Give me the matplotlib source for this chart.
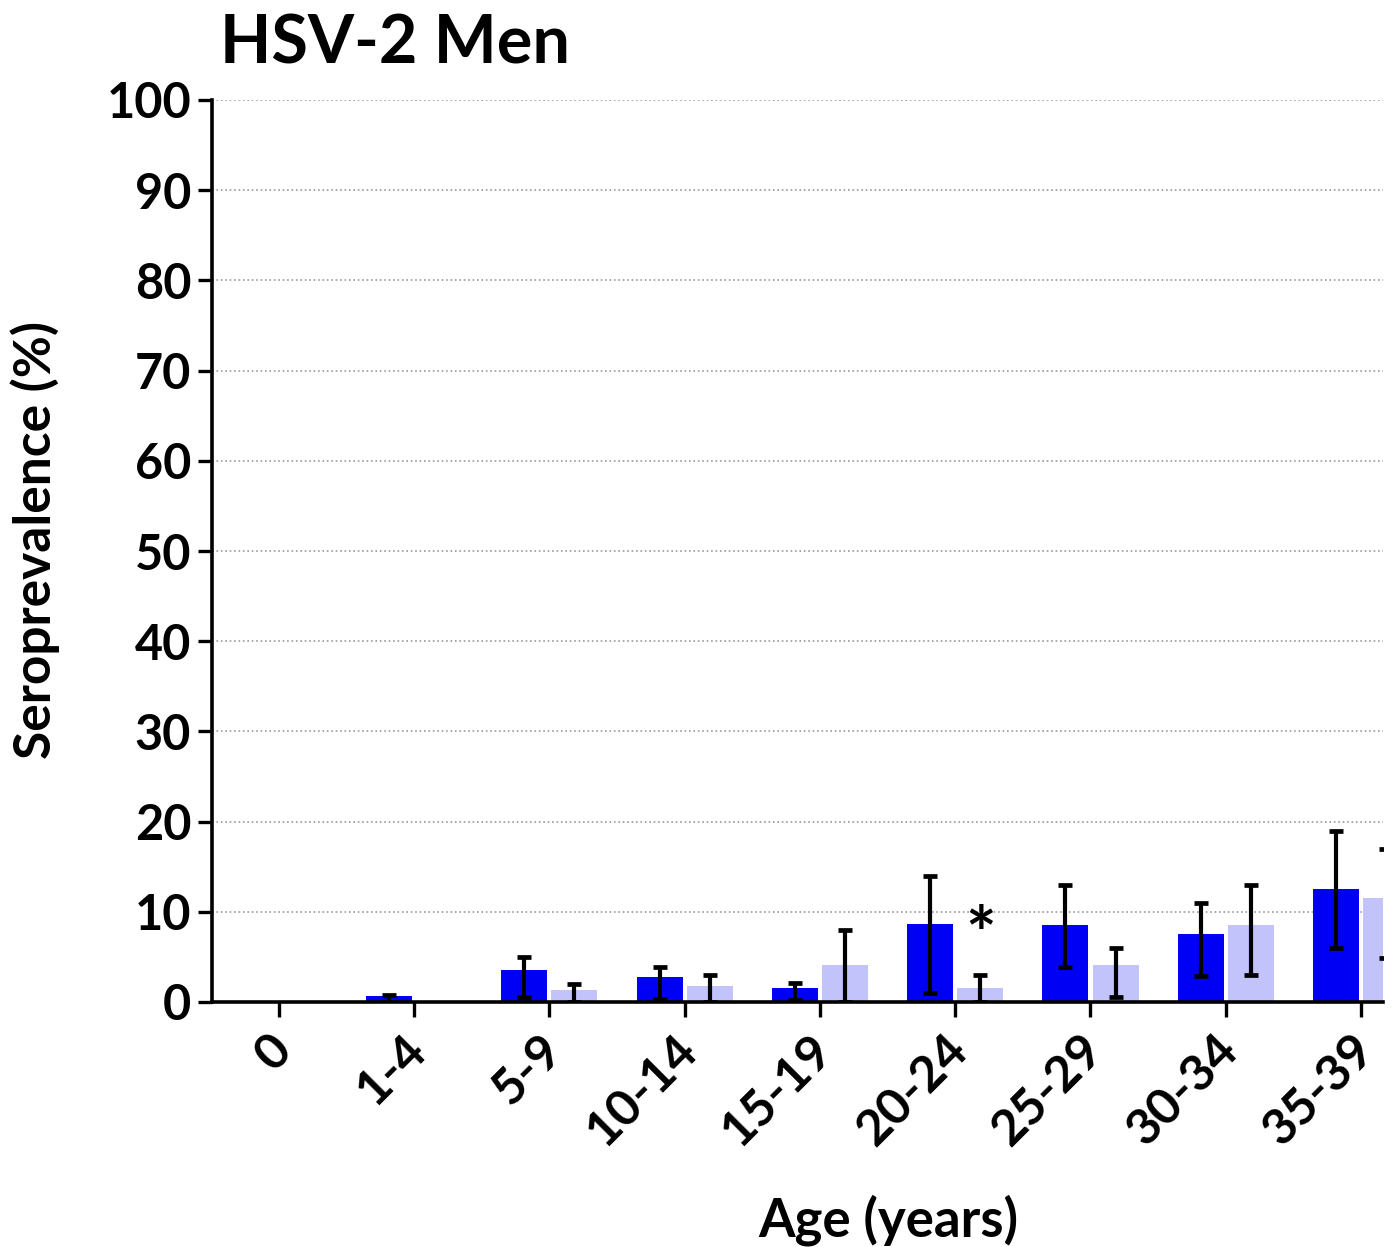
import numpy as np
import matplotlib
matplotlib.use("Agg")
import matplotlib.pyplot as plt
from matplotlib.transforms import ScaledTranslation

plt.rcParams['font.family'] = ['Lato', 'DejaVu Sans']
plt.rcParams['font.weight'] = 'bold'

ages = ['0', '1-4', '5-9', '10-14', '15-19', '20-24', '25-29', '30-34', '35-39']
dark = [0, 0.7, 3.6, 2.8, 1.5, 8.6, 8.5, 7.5, 12.5]
dark_lo = [0, 0, 0.5, 0.3, 0.2, 1.0, 3.9, 2.9, 6.0]
dark_hi = [0, 0.8, 5.0, 3.9, 2.1, 14.0, 13.0, 11.0, 19.0]
light = [0, 0, 1.3, 1.8, 4.1, 1.6, 4.1, 8.5, 11.5]
light_lo = [0, 0, 0, 0, 0, 0, 0.5, 3.0, 4.9]
light_hi = [0, 0, 2.0, 3.0, 8.0, 3.0, 6.0, 13.0, 17.0]
star_group = '20-24'
star_y = 6.9

W, H = 1393, 1247
fig = plt.figure(figsize=(W / 100, H / 100), dpi=100)
left, right, bottom, top = 212, 1383, 1002, 100
ax = fig.add_axes([left / W, 1 - bottom / H, (right - left) / W, (bottom - top) / H])

x = np.arange(len(ages))
width = 0.34
off = 0.185
c_dark = '#0000f5'
c_light = '#c3c3fb'

ax.bar(x - off, dark, width, color=c_dark, zorder=2)
ax.bar(x + off, light, width, color=c_light, zorder=2)

def draw_err(xs, vals, lo, hi):
    for xi, v, l, h in zip(xs, vals, lo, hi):
        if h == 0:
            continue
        ax.errorbar(xi, v, yerr=[[v - l], [h - v]], fmt='none', ecolor='black',
                    elinewidth=3.0, capsize=5.2, capthick=3.4, zorder=3)

draw_err(x - off, dark, dark_lo, dark_hi)
draw_err(x + off, light, light_lo, light_hi)

si = ages.index(star_group)
ax.text(si + off, star_y, '*', ha='center', va='center', fontsize=52, fontweight='bold')

ax.set_ylim(0, 100)
ax.set_xlim(-0.495, (right - 279) / 135.25)
ax.set_yticks(np.arange(0, 101, 10))
ax.set_xticks(x)
ax.set_xticklabels(ages, rotation=45, ha='right', va='center', rotation_mode='anchor')
ax.tick_params(axis='y', length=10, width=2.4, pad=5, labelsize=35)
ax.tick_params(axis='x', length=11, width=2.4, pad=18, labelsize=36)
shift = ScaledTranslation(5 / 100, 0, fig.dpi_scale_trans)
for lab in ax.get_xticklabels():
    lab.set_fontweight('bold')
    lab.set_transform(lab.get_transform() + shift)
for lab in ax.get_yticklabels():
    lab.set_fontweight('bold')

ax.yaxis.grid(True, linestyle=':', color='#999999', linewidth=1.2, zorder=0)
ax.set_axisbelow(True)
for s in ['top', 'right']:
    ax.spines[s].set_visible(False)
for s in ['left', 'bottom']:
    ax.spines[s].set_linewidth(2.6)
    ax.spines[s].set_zorder(5)

fig.text(35 / W, 1 - 540 / H, 'Seroprevalence (%)', fontsize=37, fontweight='bold',
         rotation=90, ha='center', va='center')
fig.text(888 / W, 1 - 1220 / H, 'Age (years)', fontsize=38, fontweight='bold',
         ha='center', va='center')
fig.text(220 / W, 1 - 44 / H, 'HSV-2 Men', fontsize=48, fontweight='bold', ha='left', va='center')

fig.savefig('out.png', dpi=100)
